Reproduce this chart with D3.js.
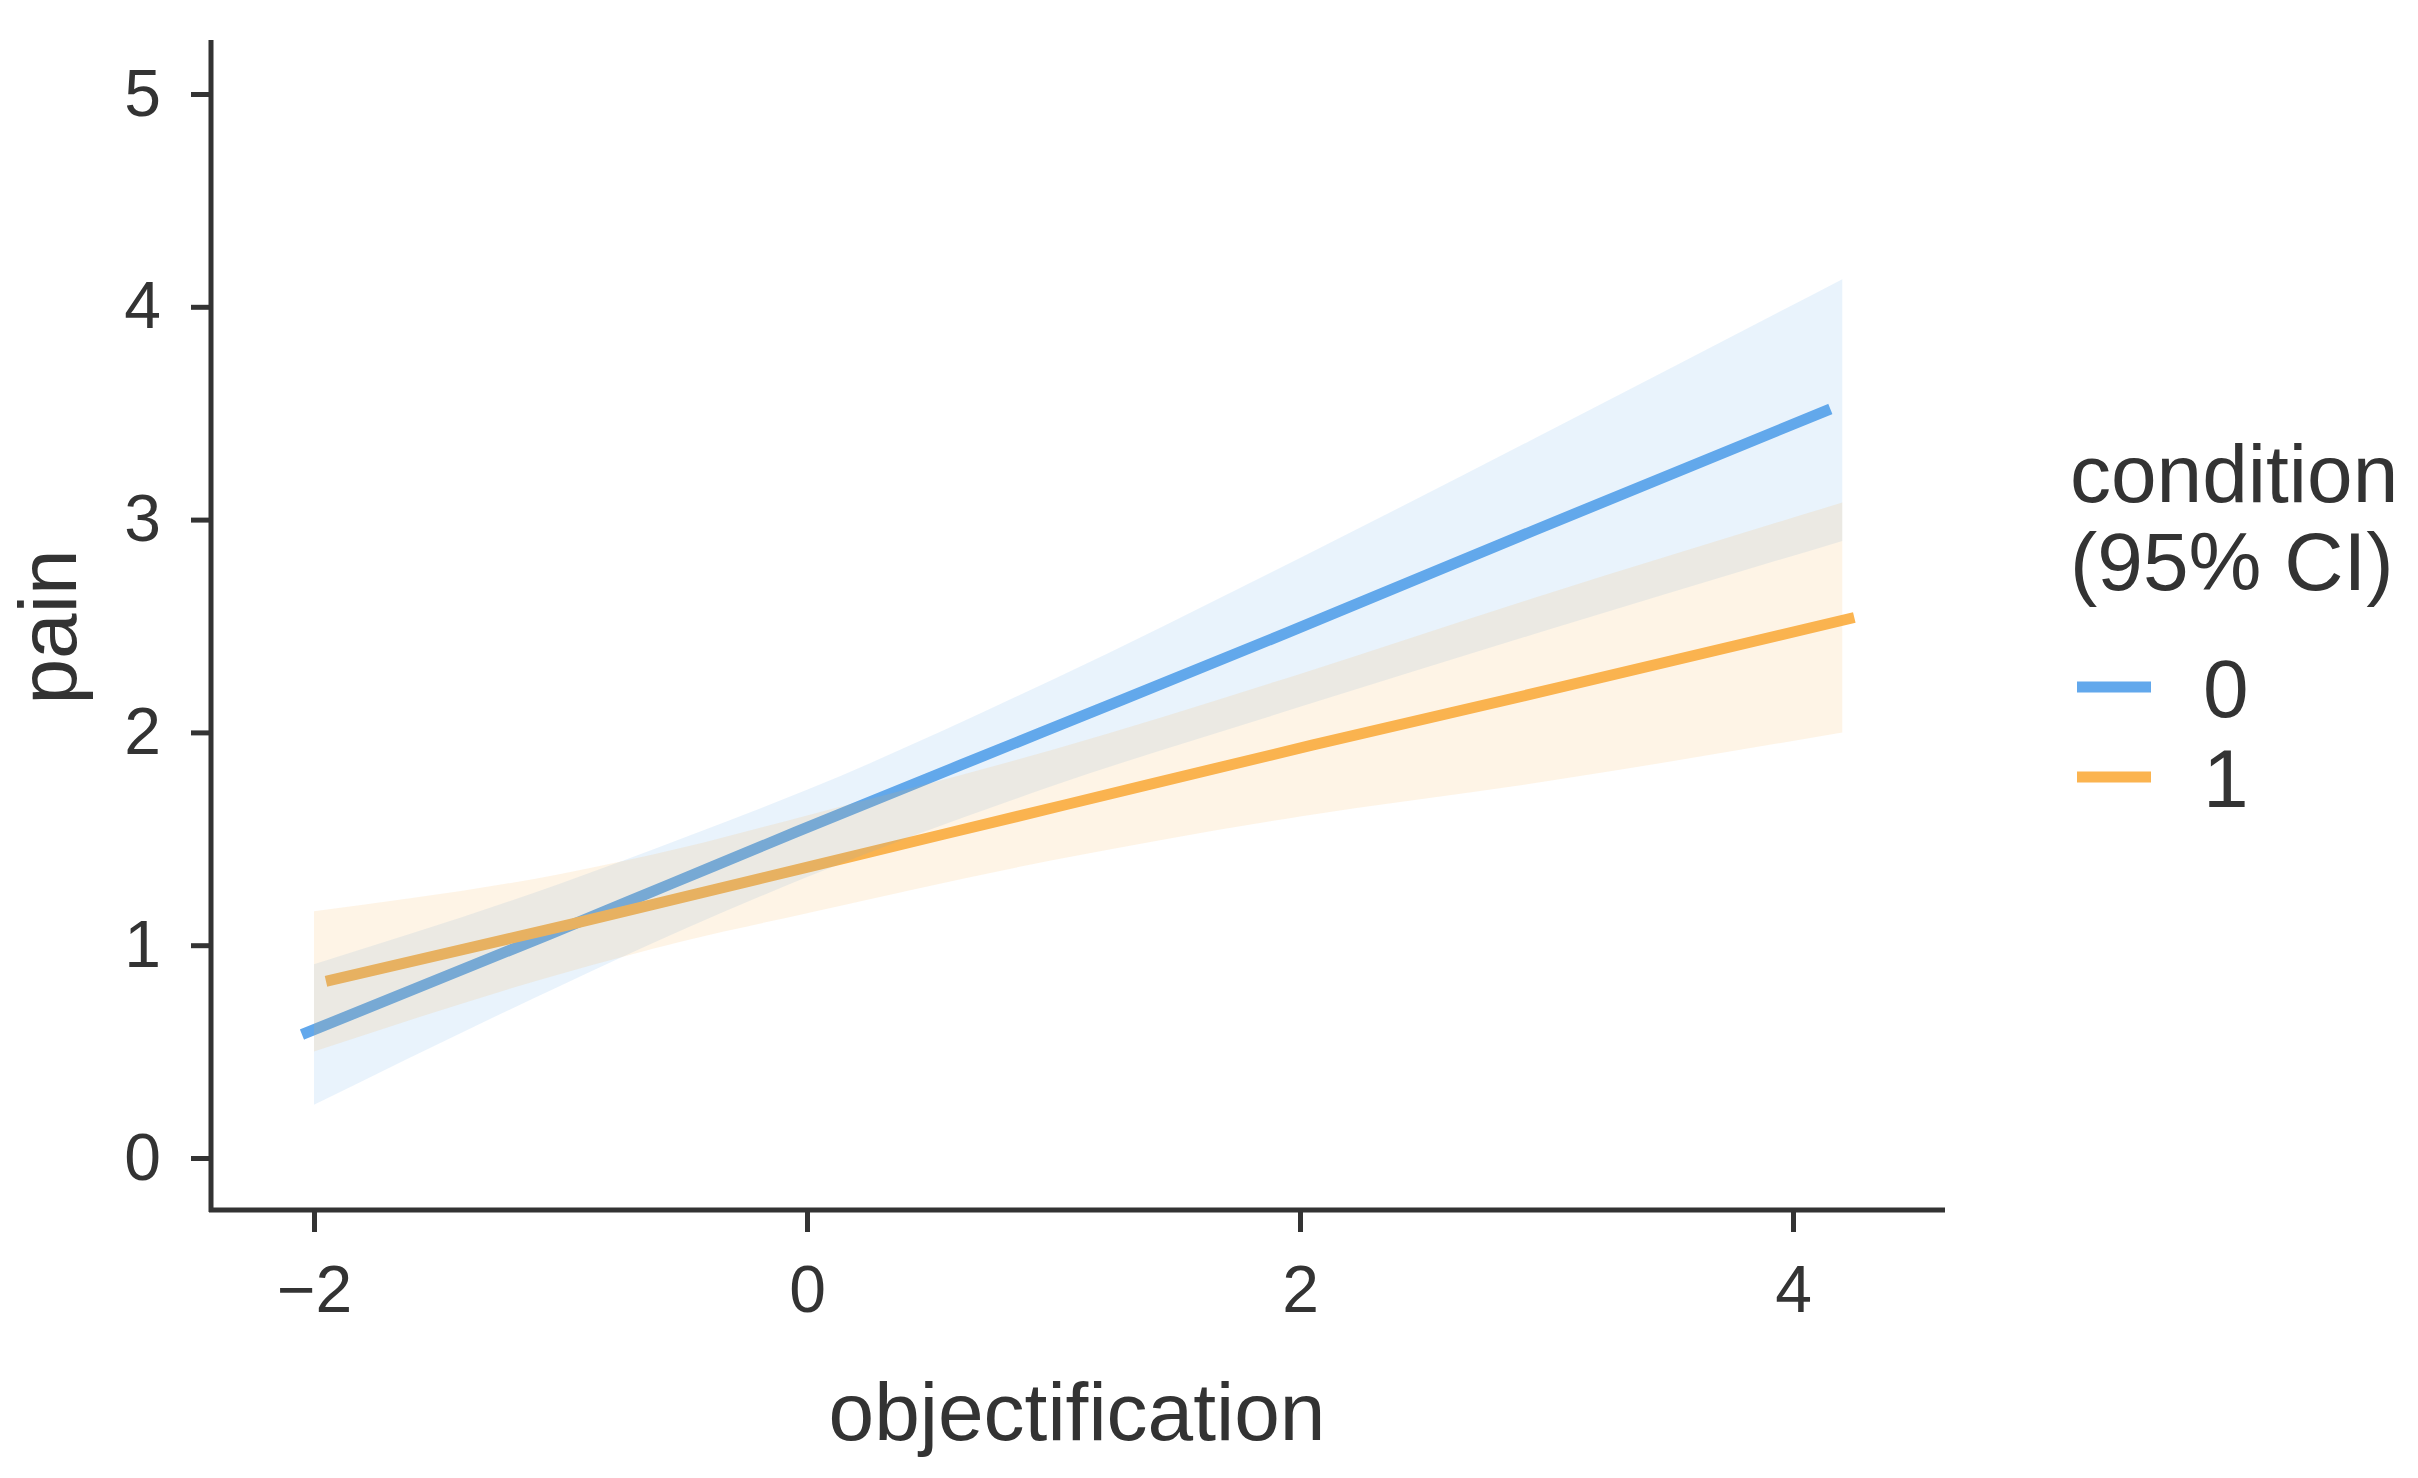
<!DOCTYPE html>
<html>
<head>
<meta charset="utf-8">
<script src="https://cdn.jsdelivr.net/npm/d3@7"></script>
<style>
    body { margin: 0; background: #ffffff; }
    text { font-family: "Liberation Sans", Arial, sans-serif; fill: #333333; }
    .tick line { stroke: #333333; stroke-width: 5; }
</style>
</head>
<body>
<div class="view1"></div>
<script>
// Values (estimated marginal means of pain)
const objectification = [-2, -1, -0.5, 0, 1, 2, 3, 4.2];

const fit0   = [0.58, 1.05, 1.29, 1.53, 2.00, 2.47, 2.95, 3.52];
const lower0 = [0.25, 0.81, 1.075, 1.32, 1.75, 2.12, 2.48, 2.90];
const upper0 = [0.91, 1.29, 1.505, 1.73, 2.25, 2.82, 3.41, 4.13];

const fit1   = [0.83, 1.10, 1.24, 1.38, 1.66, 1.94, 2.21, 2.54];
const lower1 = [0.50, 0.865, 1.02, 1.15, 1.40, 1.605, 1.77, 2.00];
const upper1 = [1.16, 1.335, 1.46, 1.61, 1.92, 2.275, 2.65, 3.08];

const conditions = ["0", "1"];
const xTicks = [-2, 0, 2, 4];
const yTicks = [0, 1, 2, 3, 4, 5];

/** Class drawing the marginal means plot */
class EmmPlot {

    constructor(){
        this.width = 2418;
        this.height = 1478;
        this.colors = ["#62a8ec", "#fbb450"];
        // lines are dodged a little, ribbons are not
        this.dodge = [-12, 12];

        this.series = conditions.map((c, i) => ({
            name: c,
            fit: i == 0 ? fit0 : fit1,
            lower: i == 0 ? lower0 : lower1,
            upper: i == 0 ? upper0 : upper1
        }));
    }

    draw(){
        let that = this;

        //Scales
        this.xScale = d3.scaleLinear().domain([-2, 4]).range([314, 1793]);
        this.yScale = d3.scaleLinear().domain([0, 5]).range([1158, 94]);

        let svg = d3.select(".view1").append("svg")
            .attr("width", this.width)
            .attr("height", this.height);

        let plot = svg.append("g").attr("class", "plot");

        // Lines first, the ribbons are laid over them
        let line = d3.line()
            .x(d => that.xScale(d[0]))
            .y(d => that.yScale(d[1]))
            .curve(d3.curveMonotoneX);

        plot.append("g").attr("class", "lines")
            .selectAll("path")
            .data(this.series)
            .join("path")
            .attr("d", d => line(objectification.map((x, j) => [x, d.fit[j]])))
            .attr("transform", (d, i) => "translate(" + that.dodge[i] + ",0)")
            .attr("fill", "none")
            .attr("stroke", (d, i) => that.colors[i])
            .attr("stroke-width", 11);

        let area = d3.area()
            .x(d => that.xScale(d.x))
            .y0(d => that.yScale(d.lo))
            .y1(d => that.yScale(d.hi))
            .curve(d3.curveMonotoneX);

        plot.append("g").attr("class", "ribbons")
            .selectAll("path")
            .data(this.series)
            .join("path")
            .attr("d", d => area(objectification.map((x, j) => ({x: x, lo: d.lower[j], hi: d.upper[j]}))))
            .attr("fill", (d, i) => that.colors[i])
            .attr("fill-opacity", 0.14);

        //Axes
        let xAxis = svg.append("g")
            .attr("transform", "translate(0,1210)")
            .call(d3.axisBottom(this.xScale).tickValues(xTicks).tickFormat(d3.format("d"))
                .tickSize(22).tickPadding(33));
        xAxis.select(".domain").remove();
        xAxis.selectAll("text").style("font-size", "66px");

        let yAxis = svg.append("g")
            .attr("transform", "translate(211,0)")
            .call(d3.axisLeft(this.yScale).tickValues(yTicks).tickFormat(d3.format("d"))
                .tickSize(20).tickPadding(30));
        yAxis.select(".domain").remove();
        yAxis.selectAll("text").style("font-size", "66px");

        // axis lines reach past the ticks
        svg.append("line")
            .attr("x1", 211).attr("x2", 211).attr("y1", 40).attr("y2", 1212)
            .attr("stroke", "#333333").attr("stroke-width", 5);
        svg.append("line")
            .attr("x1", 209).attr("x2", 1945).attr("y1", 1210).attr("y2", 1210)
            .attr("stroke", "#333333").attr("stroke-width", 5);

        //Axis titles
        svg.append("text")
            .attr("x", 1077).attr("y", 1440)
            .attr("text-anchor", "middle")
            .style("font-size", "82px")
            .text("objectification");
        svg.append("text")
            .attr("transform", "translate(76,627) rotate(-90)")
            .attr("text-anchor", "middle")
            .style("font-size", "82px")
            .text("pain");

        //Legend
        let legend = svg.append("g").attr("class", "legend");
        legend.append("text")
            .attr("x", 2070).attr("y", 502)
            .style("font-size", "82px")
            .text("condition");
        legend.append("text")
            .attr("x", 2070).attr("y", 590)
            .style("font-size", "82px")
            .text("(95% CI)");

        let keys = legend.selectAll("g.key")
            .data(this.series)
            .join("g")
            .attr("class", "key")
            .attr("transform", (d, i) => "translate(0," + (687 + i * 90) + ")");
        keys.append("line")
            .attr("x1", 2077).attr("x2", 2151)
            .attr("stroke", (d, i) => that.colors[i])
            .attr("stroke-width", 11);
        keys.append("text")
            .attr("x", 2203).attr("y", 30)
            .style("font-size", "82px")
            .text(d => d.name);
    }
}

let plot = new EmmPlot();
plot.draw();
</script>
</body>
</html>
